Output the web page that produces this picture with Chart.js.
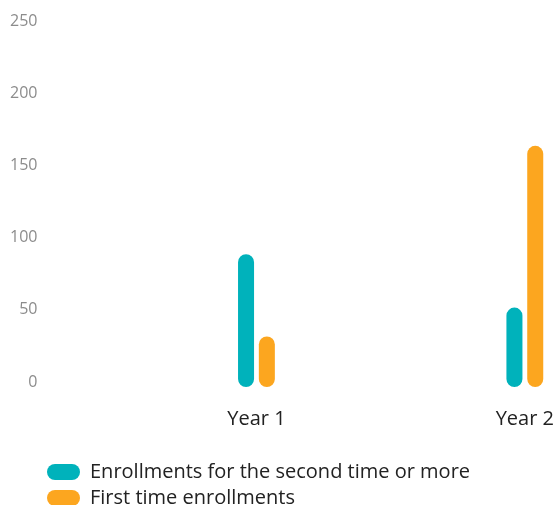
<!DOCTYPE html>
<html>
<head>
<meta charset="utf-8">
<title>Enrollments by year</title>
<script src="https://cdn.jsdelivr.net/npm/chart.js@4"></script>
<style>
  html, body { margin: 0; padding: 0; overflow: hidden; background: #fff; }
  .chart-wrap { position: relative; width: 554px; height: 518px; }
</style>
</head>
<body>
<div class="chart-wrap"><canvas id="enrollmentChart"></canvas></div>
<script>
// Enrollment counts per year
const years = ['Year 1', 'Year 2'];
const repeatEnrollments = [92, 55];
const firstEnrollments = [35, 167];
const seriesNames = ['Enrollments for the second time or more', 'First time enrollments'];
const yMax = 250;
const yStep = 50;

Chart.defaults.font.family = "'Open Sans', sans-serif";

// Indent the legend so it sits under the axis labels
const legendIndent = {
  id: 'legendIndent',
  afterLayout(chart) {
    chart.legend.left = 41;
  }
};

const ctx = document.getElementById('enrollmentChart').getContext('2d');

new Chart(ctx, {
  type: 'bar',
  data: {
    labels: years,
    datasets: [{
      label: seriesNames[0],
      data: repeatEnrollments,
      backgroundColor: '#00B2BB',
      clip: false
    }, {
      label: seriesNames[1],
      data: firstEnrollments,
      backgroundColor: '#FCA61F',
      clip: false
    }]
  },
  options: {
    responsive: true,
    maintainAspectRatio: false,
    animation: false,
    layout: {
      padding: { top: 26, left: 7, right: 0, bottom: 0 }
    },
    datasets: {
      bar: {
        borderRadius: 8,
        borderSkipped: false,
        categoryPercentage: 0.155,
        barPercentage: 0.77
      }
    },
    scales: {
      x: {
        offset: false,
        grid: { display: false, drawTicks: true, tickLength: 20 },
        border: { display: false },
        ticks: { padding: 0, color: '#222', font: { size: 20 } },
        afterFit(scale) {
          scale.height = 69;
        }
      },
      y: {
        min: 0,
        max: yMax,
        grid: { display: false, drawTicks: true, tickLength: 216 },
        border: { display: false },
        ticks: {
          stepSize: yStep,
          padding: 3,
          labelOffset: -5,
          color: '#8c8c8c',
          font: { size: 16 }
        }
      }
    },
    plugins: {
      legend: {
        position: 'bottom',
        align: 'start',
        labels: {
          boxWidth: 33,
          boxHeight: 16,
          useBorderRadius: true,
          borderRadius: 8,
          padding: 6,
          color: '#222',
          font: { size: 20 }
        }
      },
      tooltip: { enabled: false }
    }
  },
  plugins: [legendIndent]
});
</script>
</body>
</html>
